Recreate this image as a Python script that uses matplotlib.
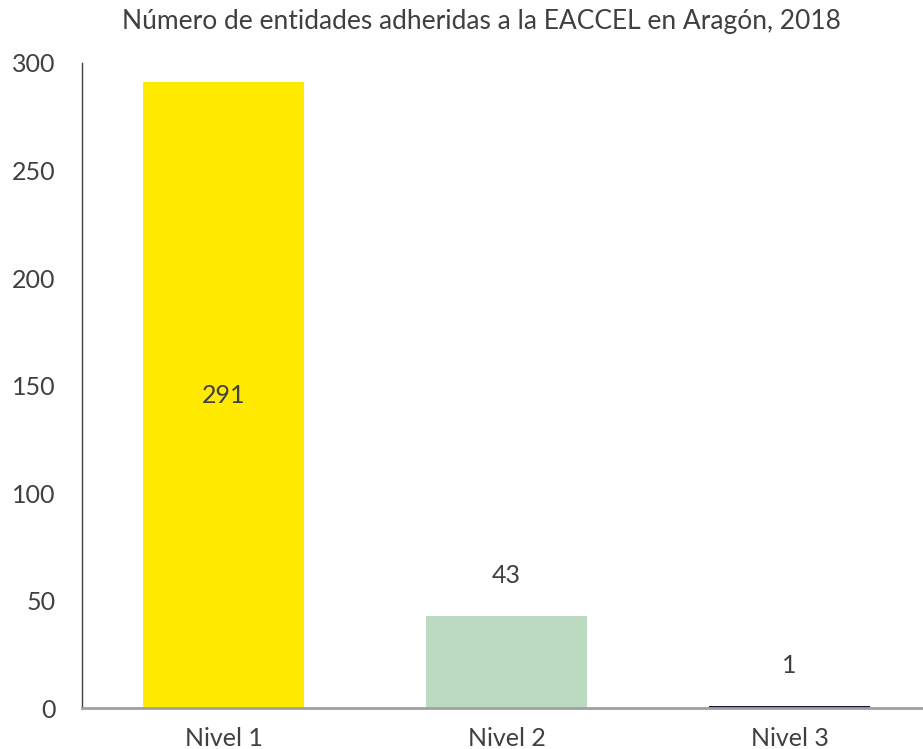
import matplotlib
matplotlib.use("Agg")
import matplotlib.pyplot as plt

plt.rcParams["font.family"] = ["Lato", "DejaVu Sans"]

# Datos
niveles = ["Nivel 1", "Nivel 2", "Nivel 3"]
entidades = [291, 43, 1]
colores = ["#FFEA00", "#BCD9C2", "#15143A"]

fig = plt.figure(figsize=(9.23, 7.49), dpi=100)
ax = fig.add_axes([0.0888, 0.0547, 0.92, 0.8612])

x = range(len(niveles))
bars = ax.bar(x, entidades, width=0.57, color=colores)

ax.set_xlim(-0.5, 2.5)
ax.set_ylim(0, 300)
ax.set_yticks(range(0, 301, 50))
ax.set_xticks(list(x))
ax.set_xticklabels(niveles)
ax.tick_params(axis="both", length=0, labelsize=18, colors="#404040")
ax.tick_params(axis="y", pad=19)
ax.tick_params(axis="x", pad=14)

for s in ["top", "right"]:
    ax.spines[s].set_visible(False)
ax.spines["left"].set_color("#404040")
ax.spines["left"].set_linewidth(1.0)
ax.spines["bottom"].set_color("#A0A0A0")
ax.spines["bottom"].set_linewidth(2.0)

# Etiquetas de valor: dentro de la barra alta, encima de las pequeñas
for i, v in enumerate(entidades):
    if v > 100:
        ax.text(i, v / 2, str(v), ha="center", va="center", fontsize=18, color="#404040")
    else:
        ax.annotate(str(v), (i, v), xytext=(0, 29), textcoords="offset points",
                    ha="center", va="center", fontsize=18, color="#404040")

fig.suptitle("Número de entidades adheridas a la EACCEL en Aragón, 2018",
             x=0.522, y=0.988, fontsize=19, color="#404040")

fig.savefig("out.png", dpi=100, facecolor="white")
